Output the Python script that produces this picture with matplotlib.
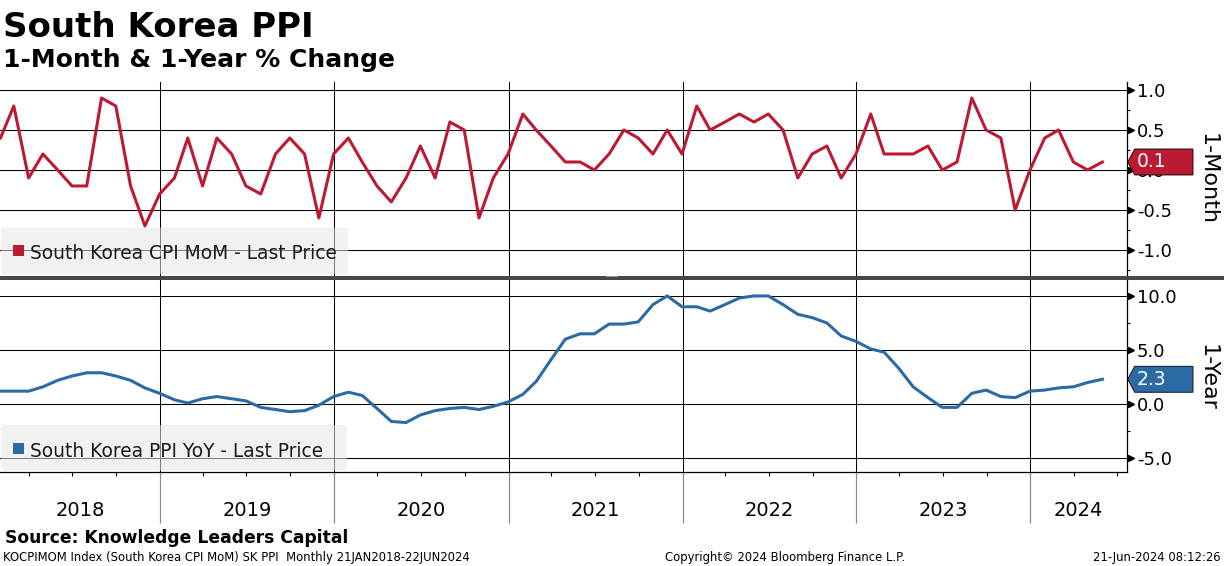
import matplotlib
matplotlib.use("Agg")
import matplotlib.pyplot as plt
import matplotlib.dates as mdates
import matplotlib.ticker as mticker
from matplotlib.patches import FancyBboxPatch, Polygon, Rectangle
from matplotlib.transforms import IdentityTransform, blended_transform_factory
import pandas as pd

# tamaño de la imagen en pixeles
W, H = 1224, 566

ROJO = "#bc1a33"
AZUL = "#2c6aa6"

# datos mensuales (fin de mes), ene-2018 a may-2024
fechas = pd.date_range("2018-01-31", periods=77, freq="ME")

# variacion mensual (%)
mom = [0.4, 0.8, -0.1, 0.2, 0.0, -0.2, -0.2, 0.9, 0.8, -0.2, -0.7, -0.3,
       -0.1, 0.4, -0.2, 0.4, 0.2, -0.2, -0.3, 0.2, 0.4, 0.2, -0.6, 0.2,
       0.4, 0.1, -0.2, -0.4, -0.1, 0.3, -0.1, 0.6, 0.5, -0.6, -0.1, 0.2,
       0.7, 0.5, 0.3, 0.1, 0.1, 0.0, 0.2, 0.5, 0.4, 0.2, 0.5, 0.2,
       0.8, 0.5, 0.6, 0.7, 0.6, 0.7, 0.5, -0.1, 0.2, 0.3, -0.1, 0.2,
       0.7, 0.2, 0.2, 0.2, 0.3, 0.0, 0.1, 0.9, 0.5, 0.4, -0.5, 0.0,
       0.4, 0.5, 0.1, 0.0, 0.1]

# variacion anual (%)
yoy = [1.2, 1.2, 1.2, 1.6, 2.2, 2.6, 2.9, 2.9, 2.6, 2.2, 1.5, 1.0,
       0.4, 0.1, 0.5, 0.7, 0.5, 0.3, -0.3, -0.5, -0.7, -0.6, -0.1, 0.7,
       1.1, 0.8, -0.4, -1.6, -1.7, -1.0, -0.6, -0.4, -0.3, -0.5, -0.2, 0.2,
       0.9, 2.1, 4.1, 6.0, 6.5, 6.5, 7.4, 7.4, 7.6, 9.2, 10.0, 9.0,
       9.0, 8.6, 9.2, 9.8, 10.0, 10.0, 9.2, 8.3, 8.0, 7.5, 6.3, 5.8,
       5.1, 4.8, 3.3, 1.6, 0.6, -0.3, -0.3, 1.0, 1.3, 0.7, 0.6, 1.2,
       1.3, 1.5, 1.6, 2.0, 2.3]

anios = [2018, 2019, 2020, 2021, 2022, 2023, 2024]
ticks_mom = [-1.0, -0.5, 0.0, 0.5, 1.0]
ticks_yoy = [-5.0, 0.0, 5.0, 10.0]

ident = IdentityTransform()
x_izq = pd.Timestamp("2018-01-30")
x_der = pd.Timestamp("2024-07-21")


# Funcion para dar formato a cada panel
def configuraEje(ax, ticks, menor, ylim):
    ax.set_xlim(x_izq, x_der)
    ax.set_ylim(*ylim)
    for lado in ["left", "top", "bottom"]:
        ax.spines[lado].set_visible(False)
    ax.spines["right"].set_linewidth(0.9)
    ax.yaxis.tick_right()
    ax.set_yticks(ticks)
    ax.yaxis.set_minor_locator(mticker.MultipleLocator(menor))
    ax.yaxis.set_major_formatter(mticker.FormatStrFormatter("%.1f"))
    ax.tick_params(axis="y", which="major", length=4.3, width=0.8, pad=3, labelsize=13)
    ax.tick_params(axis="y", which="minor", length=2.5, width=0.8)
    ax.xaxis.set_major_locator(mdates.YearLocator())
    ax.xaxis.set_major_formatter(mticker.NullFormatter())
    ax.grid(True, which="major", color="black", linewidth=0.75)
    ax.set_axisbelow(True)
    # flechitas en los ticks mayores
    trans = blended_transform_factory(ax.transAxes, ax.transData)
    ax.plot([1.0035] * len(ticks), ticks, ls="none", marker=">", ms=4.5,
            color="black", transform=trans, clip_on=False)
    ax.set_ylim(*ylim)


# Funcion para la etiqueta del ultimo valor
def etiquetaValor(fig, ax, valor, color):
    _, yd = ax.transData.transform((0, valor))
    x0 = ax.get_position().x1 * W
    verts = [(x0 + 1, yd), (x0 + 8, yd + 13), (1193, yd + 13), (1193, yd - 13), (x0 + 8, yd - 13)]
    fig.add_artist(Polygon(verts, closed=True, fc=color, ec="black", lw=0.6,
                           transform=ident, zorder=5))
    fig.text(1137, yd, f"{valor:.1f}", color="white", fontsize=13.5,
             va="center", ha="left", transform=ident, zorder=6)


# Funcion para la leyenda (caja gris semitransparente)
def leyenda(fig, y_arriba, y_abajo, ancho, y_base, texto, color):
    caja = FancyBboxPatch((1, H - y_abajo), ancho, y_abajo - y_arriba,
                          boxstyle="round,pad=0,rounding_size=4",
                          fc=(0.906, 0.906, 0.906), alpha=0.55, ec="none",
                          transform=ident, zorder=4)
    fig.add_artist(caja)
    fig.add_artist(Rectangle((13, H - y_base + 3), 11, 11, fc=color, ec="none",
                             transform=ident, zorder=5))
    fig.text(30, H - y_base, texto, fontsize=13.4, va="baseline", ha="left",
             color="#1a1a1a", transform=ident, zorder=5)


def main():
    fig = plt.figure(figsize=(W / 100, H / 100), dpi=100)

    # panel de arriba (1 mes) y panel de abajo (1 año)
    ax1 = fig.add_axes([0, (H - 275.5) / H, 1126.7 / W, (275.5 - 82) / H])
    ax2 = fig.add_axes([0, (H - 472.3) / H, 1126.7 / W, (472.3 - 279.5) / H])

    ax1.plot(fechas, mom, color=ROJO, linewidth=2.2, zorder=3)
    ax2.plot(fechas, yoy, color=AZUL, linewidth=2.2, zorder=3)

    configuraEje(ax1, ticks_mom, 0.25, (-1.319, 1.1))
    configuraEje(ax2, ticks_yoy, 2.5, (-6.30, 11.52))

    ax1.tick_params(axis="x", which="both", length=0)
    ax2.spines["bottom"].set_visible(True)
    ax2.spines["bottom"].set_linewidth(0.9)
    ax2.xaxis.set_minor_locator(mdates.MonthLocator(bymonth=[4, 7, 10]))
    ax2.tick_params(axis="x", which="major", length=36.5, width=0.9, color="#8c8c8c")
    ax2.tick_params(axis="x", which="minor", length=3, width=0.8, color="black")

    # etiquetas de los años centradas en la parte visible
    trans = blended_transform_factory(ax2.transData, ax2.transAxes)
    for a in anios:
        ini = max(pd.Timestamp(f"{a}-01-01"), x_izq)
        fin = min(pd.Timestamp(f"{a + 1}-01-01"), x_der)
        centro = ini + (fin - ini) / 2
        ax2.text(centro, -0.2, str(a), fontsize=14, ha="center", va="center",
                 transform=trans)

    # separador entre paneles (con la pequeña marca del centro)
    fig.add_artist(Rectangle((0, H - 279.5), W, 4, fc="#474747", ec="none",
                             transform=ident, zorder=6))
    for yy in (276.8, 278.3):
        fig.add_artist(Rectangle((606, H - yy), 12, 0.6, fc="#9a9a9a", ec="none",
                                 transform=ident, zorder=7))

    leyenda(fig, 227.7, 274.3, 347, 259.3, "South Korea CPI MoM - Last Price", ROJO)
    leyenda(fig, 425, 470.7, 345.7, 456.7, "South Korea PPI YoY - Last Price", AZUL)

    etiquetaValor(fig, ax1, mom[-1], ROJO)
    etiquetaValor(fig, ax2, yoy[-1], AZUL)

    # nombres de los ejes a la derecha
    fig.text(1208, H - 179, "1-Month", rotation=270, fontsize=16,
             ha="center", va="center", transform=ident)
    fig.text(1208, H - 377.5, "1-Year", rotation=270, fontsize=16,
             ha="center", va="center", transform=ident)

    # titulos
    fig.text(3, H - 36.7, "South Korea PPI", fontsize=24.5, fontweight="bold",
             va="baseline", transform=ident)
    fig.text(3, H - 67.5, "1-Month & 1-Year % Change", fontsize=18, fontweight="bold",
             va="baseline", transform=ident)

    # pie de pagina
    fig.text(5, H - 543, "Source: Knowledge Leaders Capital", fontsize=12.3,
             fontweight="bold", va="baseline", transform=ident)
    fig.text(3, H - 561, "KOCPIMOM Index (South Korea CPI MoM) SK PPI  Monthly 21JAN2018-22JUN2024",
             fontsize=8.4, va="baseline", transform=ident)
    fig.text(785, H - 561, "Copyright\u00a9 2024 Bloomberg Finance L.P.", fontsize=8.4,
             ha="center", va="baseline", transform=ident)
    fig.text(1221, H - 561, "21-Jun-2024 08:12:26", fontsize=8.4, ha="right",
             va="baseline", transform=ident)

    fig.savefig("out.png", dpi=100)


main()
